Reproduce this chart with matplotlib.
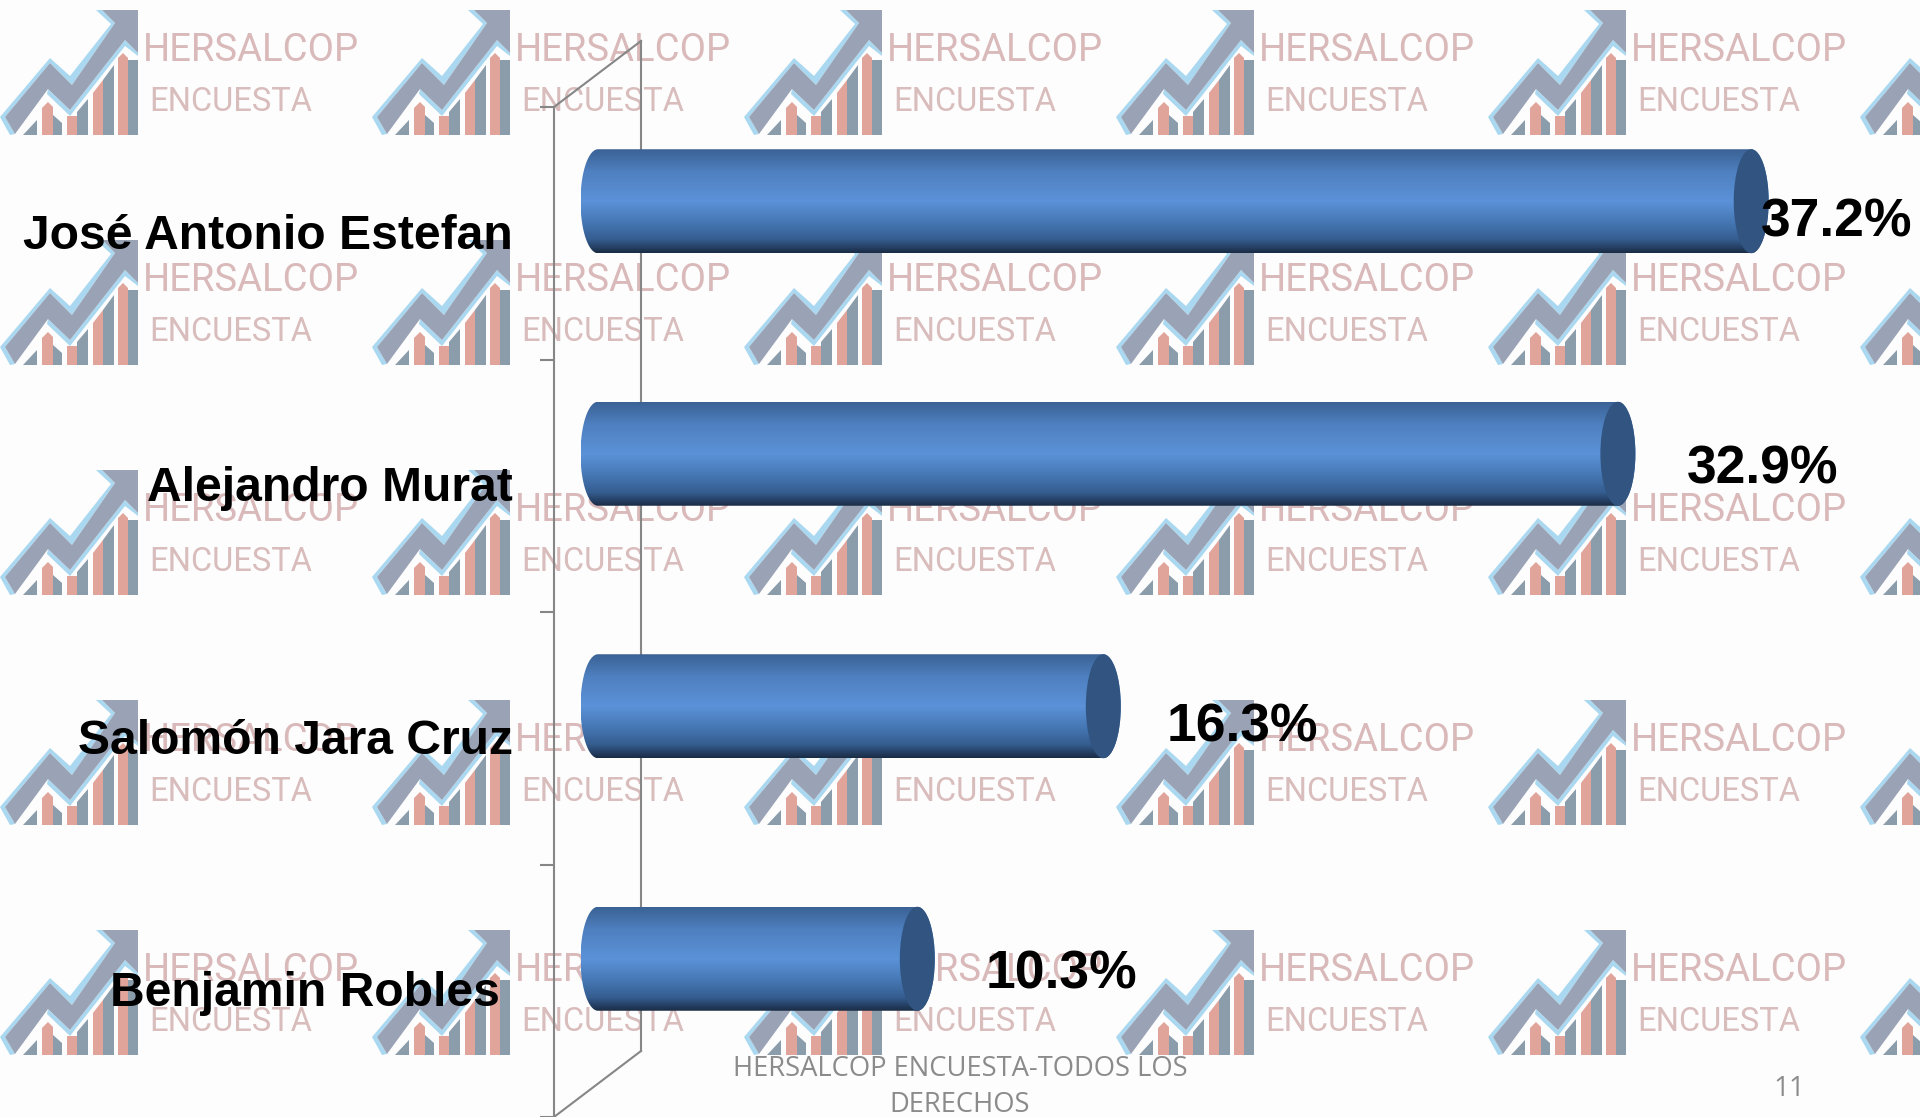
import numpy as np
import matplotlib
matplotlib.use("Agg")
import matplotlib.pyplot as plt
from matplotlib.colors import LinearSegmentedColormap
from matplotlib.patches import Ellipse, Polygon
from matplotlib.ticker import FixedLocator, NullFormatter
from matplotlib.transforms import Affine2D

candidates = ["José Antonio Estefan", "Alejandro Murat", "Salomón Jara Cruz", "Benjamin Robles"]
percent = [37.2, 32.9, 16.3, 10.3]
footer = "HERSALCOP ENCUESTA-TODOS LOS\nDERECHOS"
page_number = "11"

# pixel nudges for the texts, they are not evenly placed in the slide
name_nudge = [(-41, -3), (-41, -3), (-41, -3), (-54, -3)]
value_nudge = [(-8, -21), (51, -16), (46, -21), (51, -16)]

W, H = 1920, 1117
PX_PER_UNIT = 31.0
ROW_PX = 252.5
BAR_H = 104 / ROW_PX
CAP_RX = 17.5 / PX_PER_UNIT

BAR_BLUE = LinearSegmentedColormap.from_list(
    "cylinder",
    [(0.0, "#3a6295"), (0.22, "#4f80c0"), (0.5, "#5b92d8"), (0.7, "#4678b5"), (0.87, "#355d90"), (1.0, "#1a2c45")],
)
CAP_BLUE = "#315480"
AXIS_GREY = "#868686"
TEXT_GREY = "#8b8b8b"

# watermark logo outline, pixels from the tile corner
ARROW = [(5, 117), (50, 63), (72, 85), (115, 23), (102, 10), (138, 10), (138, 53), (125, 40), (70, 110), (48, 89), (15, 134)]
ARROW_EDGE = [(0, 117), (50, 58), (70, 76), (111, 24), (96, 10), (102, 10), (115, 23), (72, 85), (50, 63), (5, 117), (15, 134), (10, 135)]
ARROW_UNDER = [(47, 94), (70, 116), (125, 46), (138, 56), (138, 53), (125, 40), (70, 110), (48, 89)]
SALMON_BARS = [
    [(42, 108), (48, 102), (53, 107), (53, 135), (42, 135)],
    [(67, 116), (77, 116), (77, 135), (67, 135)],
    [(93, 93), (103, 80), (103, 135), (93, 135)],
    [(118, 58), (123, 53), (128, 58), (128, 135), (118, 135)],
]
GREY_BARS = [
    [(23, 135), (37, 120), (37, 135)],
    [(53, 115), (62, 123), (62, 135), (53, 135)],
    [(77, 112), (88, 99), (88, 135), (77, 135)],
    [(103, 80), (114, 65), (114, 135), (103, 135)],
    [(128, 60), (138, 60), (138, 135), (128, 135)],
]


def draw_logo(bg, x0, y0):
    def add(points, color):
        shifted = [(x + x0, y + y0) for x, y in points]
        bg.add_patch(Polygon(shifted, closed=True, facecolor=color, edgecolor="none"))

    add(ARROW_EDGE, "#a9d8f0")
    add(ARROW_UNDER, "#a9d8f0")
    add(ARROW, "#9aa3b6")
    for pts in SALMON_BARS:
        add(pts, "#e0a49b")
    for pts in GREY_BARS:
        add(pts, "#8b9cab")
    # the last column only shows the start of the logo
    if x0 + 143 < W:
        bg.text(x0 + 143, y0 + 61, "HERSALCOP", family="Roboto", fontsize=27.5,
                color="#d9b9b9", ha="left", va="baseline")
        bg.text(x0 + 149, y0 + 111, "ENCUESTA", family="Roboto", fontsize=23.5,
                color="#d9bcbc", ha="left", va="baseline")


fig = plt.figure(figsize=(W / 100, H / 100), dpi=100, facecolor="#fdfdfd")

bg = fig.add_axes([0, 0, 1, 1], zorder=0)
bg.set_xlim(0, W)
bg.set_ylim(H, 0)
bg.axis("off")
for row in range(5):
    for col in range(6):
        draw_logo(bg, col * 372, row * 230)

# front plane of the fake 3D chart
ax = fig.add_axes([554 / W, 0, (W - 554) / W, (H - 107) / H], zorder=1)
ax.patch.set_visible(False)
xlim = (0, (W - 554) / PX_PER_UNIT)
ylim = (len(candidates) - 0.5, -0.5)

# bars sit halfway into the depth, back wall all the way
mid_plane = ax.transData + Affine2D().translate(44, 32)
back_plane = ax.transData + Affine2D().translate(87, 66)

top, bottom = ylim[1], ylim[0]
ax.plot([0, 0], [top, bottom], color=AXIS_GREY, lw=1.5, transform=back_plane, clip_on=False, zorder=1)
for y in (top, bottom):
    ax.plot([0, 87 / PX_PER_UNIT], [y, y - 66 / ROW_PX], color=AXIS_GREY, lw=1.5, clip_on=False, zorder=1)

gradient = np.linspace(0, 1, 256).reshape(-1, 1)
t = np.linspace(-np.pi / 2, np.pi / 2, 60)
for i, value in enumerate(percent):
    right_x = value + CAP_RX * np.cos(t)
    right_y = i + BAR_H / 2 * np.sin(t)
    left_x = -CAP_RX * np.cos(t[::-1])
    left_y = i + BAR_H / 2 * np.sin(t[::-1])
    outline = np.column_stack([np.r_[right_x, left_x], np.r_[right_y, left_y]])
    shape = Polygon(outline, closed=True, facecolor="none", edgecolor="none", transform=mid_plane, zorder=2)
    ax.add_patch(shape)
    img = ax.imshow(gradient, cmap=BAR_BLUE, aspect="auto", interpolation="bilinear",
                    extent=[-CAP_RX, value + CAP_RX, i + BAR_H / 2, i - BAR_H / 2],
                    transform=mid_plane, zorder=2)
    img.set_clip_path(shape)
    ax.add_patch(Ellipse((value, i), 2 * CAP_RX, BAR_H, facecolor=CAP_BLUE, edgecolor="none",
                         transform=mid_plane, zorder=3))

    ax.annotate(candidates[i], (0, i), xytext=name_nudge[i], textcoords="offset pixels",
                ha="right", va="center", family="Liberation Sans", fontweight="bold",
                fontsize=34.6, color="black", annotation_clip=False, zorder=5)
    ax.annotate(f"{value:.1f}%", (value + CAP_RX, i), xycoords=mid_plane, xytext=value_nudge[i],
                textcoords="offset pixels", ha="left", va="center", family="Liberation Sans",
                fontweight="bold", fontsize=38.5, color="black", annotation_clip=False, zorder=5)

ax.set_xlim(*xlim)
ax.set_ylim(*ylim)
ax.xaxis.set_visible(False)
for side in ("top", "right", "bottom"):
    ax.spines[side].set_visible(False)
ax.spines["left"].set_color(AXIS_GREY)
ax.spines["left"].set_linewidth(1.5)
ax.yaxis.set_major_locator(FixedLocator(np.arange(-0.5, len(candidates))))
ax.yaxis.set_major_formatter(NullFormatter())
ax.tick_params(axis="y", length=10, width=1.5, color=AXIS_GREY)

fig.text(960 / W, 1 - 1087 / H, footer, ha="center", va="center", family="Open Sans",
         fontsize=19.7, color=TEXT_GREY, linespacing=1.34, zorder=6)
fig.text(1789 / W, 1 - 1089 / H, page_number, ha="center", va="center", family="Open Sans",
         fontsize=20, color=TEXT_GREY, zorder=6)

fig.savefig("out.png", dpi=100, facecolor=fig.get_facecolor())
